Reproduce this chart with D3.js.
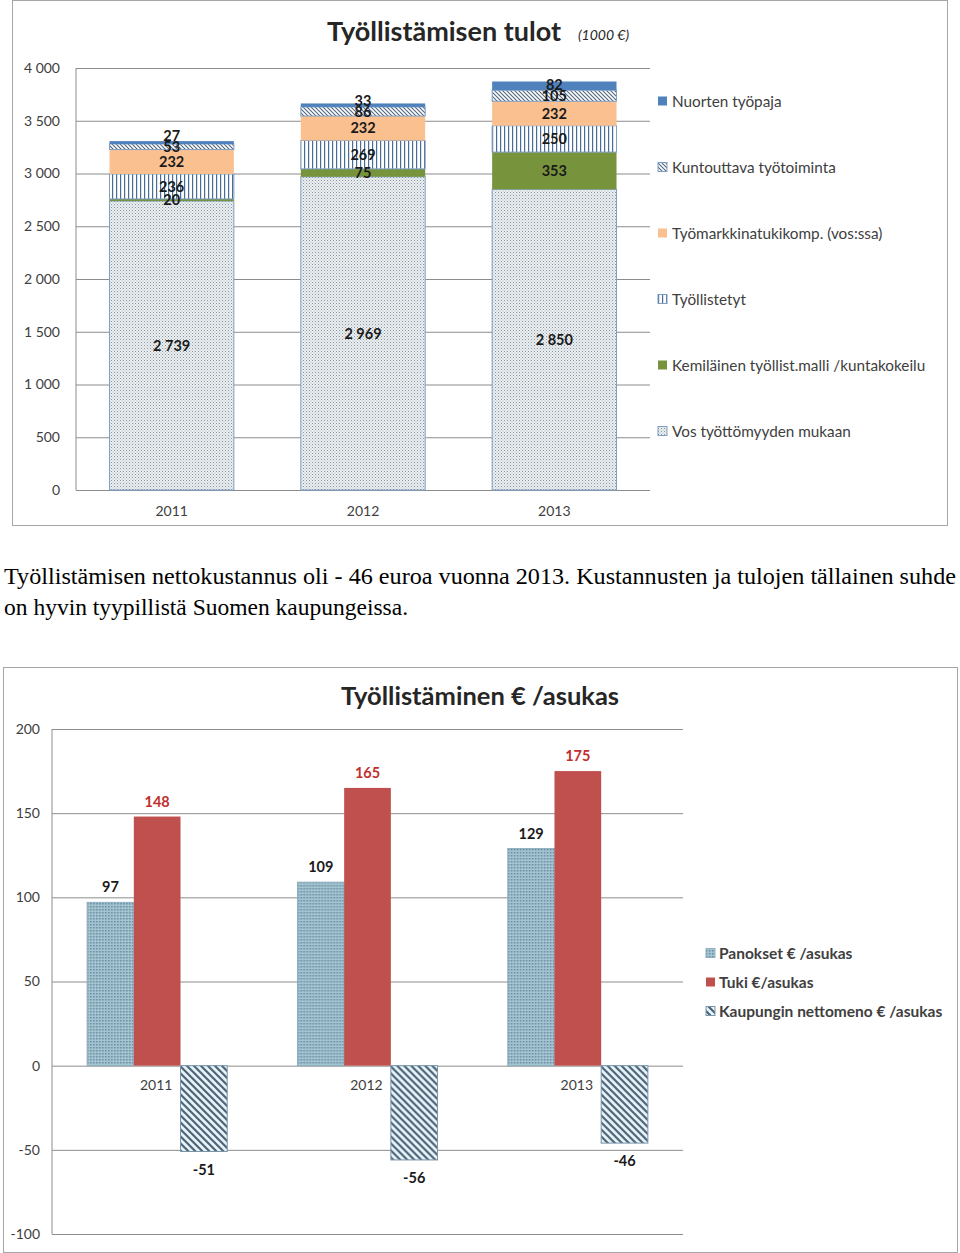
<!DOCTYPE html>
<html>
<head>
<meta charset="utf-8">
<script src="https://cdn.jsdelivr.net/npm/d3@7"></script>
<style>
  body { margin: 0; background: #fff; }
  svg { display: block; }
  .tick text { font-family: Lato, "Open Sans", sans-serif; }
</style>
</head>
<body>
<svg id="page" width="960" height="1253"></svg>
<script>
// ---- data: chart 1 (1000 €) ----
const years = ["2011", "2012", "2013"];
const incomeSeries = [
  "Vos työttömyyden mukaan",
  "Kemiläinen työllist.malli /kuntakokeilu",
  "Työllistetyt",
  "Työmarkkinatukikomp. (vos:ssa)",
  "Kuntouttava työtoiminta",
  "Nuorten työpaja"
];
const vos = [2739, 2969, 2850];
const kemi = [20, 75, 353];
const tyollistetyt = [236, 269, 250];
const tmtuki = [232, 232, 232];
const kuntouttava = [53, 86, 105];
const nuorten = [27, 33, 82];
const incomeTicks = [0, 500, 1000, 1500, 2000, 2500, 3000, 3500, 4000];

// ---- data: chart 2 (€ / asukas) ----
const perSeries = ["Panokset € /asukas", "Tuki €/asukas", "Kaupungin nettomeno € /asukas"];
const panokset = [97, 109, 129];
const tuki = [148, 165, 175];
const netto = [-51, -56, -46];
const perTicks = [-100, -50, 0, 50, 100, 150, 200];

const paragraph = [
  "Työllistämisen nettokustannus oli - 46 euroa vuonna 2013. Kustannusten ja tulojen tällainen suhde",
  "on hyvin tyypillistä Suomen kaupungeissa."
];

const FONT = 'Lato, "Open Sans", sans-serif';
const svg = d3.select("#page");
const fmt = d3.formatLocale({ decimal: ",", thousands: "\u00a0", grouping: [3], currency: ["", "€"] }).format(",d");

// ---- patterns ----
const defs = svg.append("defs");
function pattern(id, w, h, bg, draw) {
  const p = defs.append("pattern").attr("id", id).attr("patternUnits", "userSpaceOnUse")
    .attr("width", w).attr("height", h);
  p.append("rect").attr("width", w).attr("height", h).attr("fill", bg);
  draw(p);
}
pattern("pDots", 3, 3, "#eceff1", p => {
  p.append("rect").attr("x", 0).attr("y", 0).attr("width", 1).attr("height", 1).attr("fill", "#87949e");
  p.append("rect").attr("x", 1.5).attr("y", 1.5).attr("width", 1).attr("height", 1).attr("fill", "#aab4bb");
});
pattern("pVert", 4, 4, "#ffffff", p => {
  p.append("rect").attr("x", 0).attr("y", 0).attr("width", 1.2).attr("height", 4).attr("fill", "#4a6d96");
});
pattern("pDiag", 4, 4, "#ffffff", p => {
  p.append("path").attr("d", "M-1,-1 L5,5 M-1,3 L1,5 M3,-1 L5,1").attr("stroke", "#50667e").attr("stroke-width", 1.1);
});
pattern("pCheck", 3, 3, "#a3c4d1", p => {
  p.append("rect").attr("x", 0).attr("y", 0).attr("width", 1.5).attr("height", 1.5).attr("fill", "#678b9e");
});
pattern("pStripe", 7, 7, "#eaf5f9", p => {
  p.append("path").attr("d", "M-2,-2 L9,9 M-2,5 L2,9 M5,-2 L9,2").attr("stroke", "#4a6277").attr("stroke-width", 2.2);
});

// =========================== chart 1 ===========================
svg.append("rect").attr("x", 12.5).attr("y", 0.5).attr("width", 935).attr("height", 525)
  .attr("fill", "#fff").attr("stroke", "#a6a6a6");

svg.append("text").attr("x", 444).attr("y", 41).attr("text-anchor", "middle")
  .attr("font-family", FONT).attr("font-weight", "bold").attr("font-size", 27).attr("fill", "#262626")
  .text("Työllistämisen tulot");
svg.append("text").attr("x", 578).attr("y", 40)
  .attr("font-family", FONT).attr("font-style", "italic").attr("font-size", 14).attr("fill", "#262626")
  .text("(1000 €)");

const p1 = { left: 76, right: 650, top: 68, bottom: 490 };
const x1 = d3.scaleBand().domain(years).range([p1.left, p1.right]).paddingInner(0.35).paddingOuter(0.175);
const y1 = d3.scaleLinear().domain([0, 4000]).range([p1.bottom, p1.top]);

const g1 = svg.append("g");
g1.append("g").attr("transform", `translate(${p1.left},0)`)
  .call(d3.axisLeft(y1).tickValues(incomeTicks).tickFormat(fmt).tickSizeInner(-(p1.right - p1.left)).tickSizeOuter(0).tickPadding(16))
  .call(g => g.select(".domain").remove())
  .call(g => g.selectAll(".tick line").attr("stroke", "#8c8c8c"))
  .call(g => g.selectAll(".tick text").attr("font-size", 14).attr("fill", "#404040"));
g1.append("line").attr("x1", p1.left).attr("x2", p1.left).attr("y1", p1.top).attr("y2", p1.bottom).attr("stroke", "#8c8c8c");

g1.append("g").attr("transform", `translate(0,${p1.bottom})`)
  .call(d3.axisBottom(x1).tickSize(0).tickPadding(16))
  .call(g => g.select(".domain").remove())
  .call(g => g.selectAll(".tick text").attr("font-size", 14).attr("fill", "#404040"));

const incomeRows = years.map((yr, i) => ({
  year: yr,
  [incomeSeries[0]]: vos[i],
  [incomeSeries[1]]: kemi[i],
  [incomeSeries[2]]: tyollistetyt[i],
  [incomeSeries[3]]: tmtuki[i],
  [incomeSeries[4]]: kuntouttava[i],
  [incomeSeries[5]]: nuorten[i]
}));
const stacked = d3.stack().keys(incomeSeries)(incomeRows);
const incomeFill = d3.scaleOrdinal().domain(incomeSeries)
  .range(["url(#pDots)", "#77933c", "url(#pVert)", "#fac090", "url(#pDiag)", "#4f81bd"]);
const incomeStroke = d3.scaleOrdinal().domain(incomeSeries)
  .range(["#7e9fc4", "none", "#7e9fc4", "none", "#7e9fc4", "none"]);

const layers = g1.selectAll(".layer").data(stacked).join("g").attr("class", "layer");
layers.selectAll("rect").data(d => d.map(v => ({ key: d.key, v }))).join("rect")
  .attr("x", d => x1(d.v.data.year))
  .attr("y", d => y1(d.v[1]))
  .attr("width", x1.bandwidth())
  .attr("height", d => y1(d.v[0]) - y1(d.v[1]))
  .attr("fill", d => incomeFill(d.key))
  .attr("stroke", d => incomeStroke(d.key))
  .attr("stroke-width", 1);

// segment labels: centred, the topmost one pushed up if it would sit on the one below
const labelPos = [];
years.forEach((yr, i) => {
  let prev = null;
  stacked.forEach(s => {
    const v = s[i];
    let y = (y1(v[0]) + y1(v[1])) / 2;
    if (prev !== null && s.key === incomeSeries[5]) y = Math.min(y, prev - 11);
    labelPos.push({ year: yr, y, value: v[1] - v[0] });
    prev = y;
  });
});
g1.append("g").selectAll("text").data(labelPos).join("text")
  .attr("x", d => x1(d.year) + x1.bandwidth() / 2)
  .attr("y", d => d.y)
  .attr("dy", "0.36em")
  .attr("text-anchor", "middle")
  .attr("font-family", FONT).attr("font-weight", "bold").attr("font-size", 14.5).attr("fill", "#1a1a1a")
  .text(d => fmt(d.value));

const legend1 = svg.append("g").selectAll("g").data(incomeSeries.slice().reverse()).join("g")
  .attr("transform", (d, i) => `translate(658,${101 + i * 66})`);
legend1.append("rect").attr("x", 0).attr("y", -4.5).attr("width", 9).attr("height", 9)
  .attr("fill", d => incomeFill(d)).attr("stroke", d => incomeStroke(d) === "none" ? "none" : "#7e9fc4");
legend1.append("text").attr("x", 14).attr("dy", "0.36em")
  .attr("font-family", FONT).attr("font-size", 15.3).attr("fill", "#404040").text(d => d);

// =========================== paragraph ===========================
svg.append("g").selectAll("text").data(paragraph).join("text")
  .attr("x", 4).attr("y", (d, i) => 584 + i * 31)
  .attr("font-family", '"Liberation Serif", "Times New Roman", serif').attr("font-size", 23.5).attr("fill", "#000")
  .each(function (d, i) { if (i === 0) d3.select(this).attr("textLength", 952).attr("lengthAdjust", "spacingAndGlyphs"); })
  .text(d => d);

// =========================== chart 2 ===========================
svg.append("rect").attr("x", 3.5).attr("y", 667.5).attr("width", 954).attr("height", 585)
  .attr("fill", "#fff").attr("stroke", "#a6a6a6");

svg.append("text").attr("x", 480).attr("y", 705).attr("text-anchor", "middle")
  .attr("font-family", FONT).attr("font-weight", "bold").attr("font-size", 25.5).attr("fill", "#262626")
  .text("Työllistäminen € /asukas");

const p2 = { left: 52, right: 683, top: 729, bottom: 1234 };
const x2 = d3.scaleBand().domain(years).range([p2.left, p2.right]).paddingInner(0.334).paddingOuter(0.167);
const xs = d3.scaleBand().domain(perSeries).range([0, x2.bandwidth()]).padding(0);
const y2 = d3.scaleLinear().domain([-100, 200]).range([p2.bottom, p2.top]);

const g2 = svg.append("g");
g2.append("g").attr("transform", `translate(${p2.left},0)`)
  .call(d3.axisLeft(y2).tickValues(perTicks).tickFormat(d => String(d)).tickSizeInner(-(p2.right - p2.left)).tickSizeOuter(0).tickPadding(12))
  .call(g => g.select(".domain").remove())
  .call(g => g.selectAll(".tick line").attr("stroke", "#8c8c8c"))
  .call(g => g.selectAll(".tick text").attr("font-size", 14).attr("fill", "#404040"));
g2.append("line").attr("x1", p2.left).attr("x2", p2.left).attr("y1", p2.top).attr("y2", p2.bottom).attr("stroke", "#8c8c8c");

const perRows = years.map((yr, i) => ({ year: yr, values: [panokset[i], tuki[i], netto[i]] }));
const perFill = d3.scaleOrdinal().domain(perSeries).range(["url(#pCheck)", "#c0504d", "url(#pStripe)"]);
const perStroke = d3.scaleOrdinal().domain(perSeries).range(["#8fb0c0", "none", "#7895aa"]);
const labelColor = d3.scaleOrdinal().domain(perSeries).range(["#1a1a1a", "#c0302e", "#1a1a1a"]);

const groups = g2.selectAll(".grp").data(perRows).join("g").attr("class", "grp")
  .attr("transform", d => `translate(${x2(d.year)},0)`);
const cells = d => d.values.map((v, j) => ({ key: perSeries[j], v }));
groups.selectAll("rect").data(cells).join("rect")
  .attr("x", d => xs(d.key))
  .attr("y", d => y2(Math.max(0, d.v)))
  .attr("width", xs.bandwidth())
  .attr("height", d => Math.abs(y2(d.v) - y2(0)))
  .attr("fill", d => perFill(d.key))
  .attr("stroke", d => perStroke(d.key))
  .attr("stroke-width", 1);
groups.selectAll("text").data(cells).join("text")
  .attr("x", d => xs(d.key) + xs.bandwidth() / 2)
  .attr("y", d => d.v >= 0 ? y2(d.v) - 10 : y2(d.v) + 23)
  .attr("text-anchor", "middle")
  .attr("font-family", FONT).attr("font-weight", "bold").attr("font-size", 14.5)
  .attr("fill", d => labelColor(d.key))
  .text(d => d.v);

// category labels sit just under the zero line
g2.append("g").selectAll("text").data(years).join("text")
  .attr("x", d => x2(d) + x2.bandwidth() / 2 - 1)
  .attr("y", y2(0) + 24)
  .attr("text-anchor", "middle")
  .attr("font-family", FONT).attr("font-size", 14).attr("fill", "#404040")
  .text(d => d);

const legend2 = svg.append("g").selectAll("g").data(perSeries).join("g")
  .attr("transform", (d, i) => `translate(706,${953 + i * 29})`);
legend2.append("rect").attr("x", 0).attr("y", -4.5).attr("width", 9).attr("height", 9)
  .attr("fill", d => perFill(d)).attr("stroke", d => perStroke(d));
legend2.append("text").attr("x", 13).attr("dy", "0.36em")
  .attr("font-family", FONT).attr("font-weight", "bold").attr("font-size", 15.5).attr("fill", "#404040").text(d => d);
</script>
</body>
</html>
